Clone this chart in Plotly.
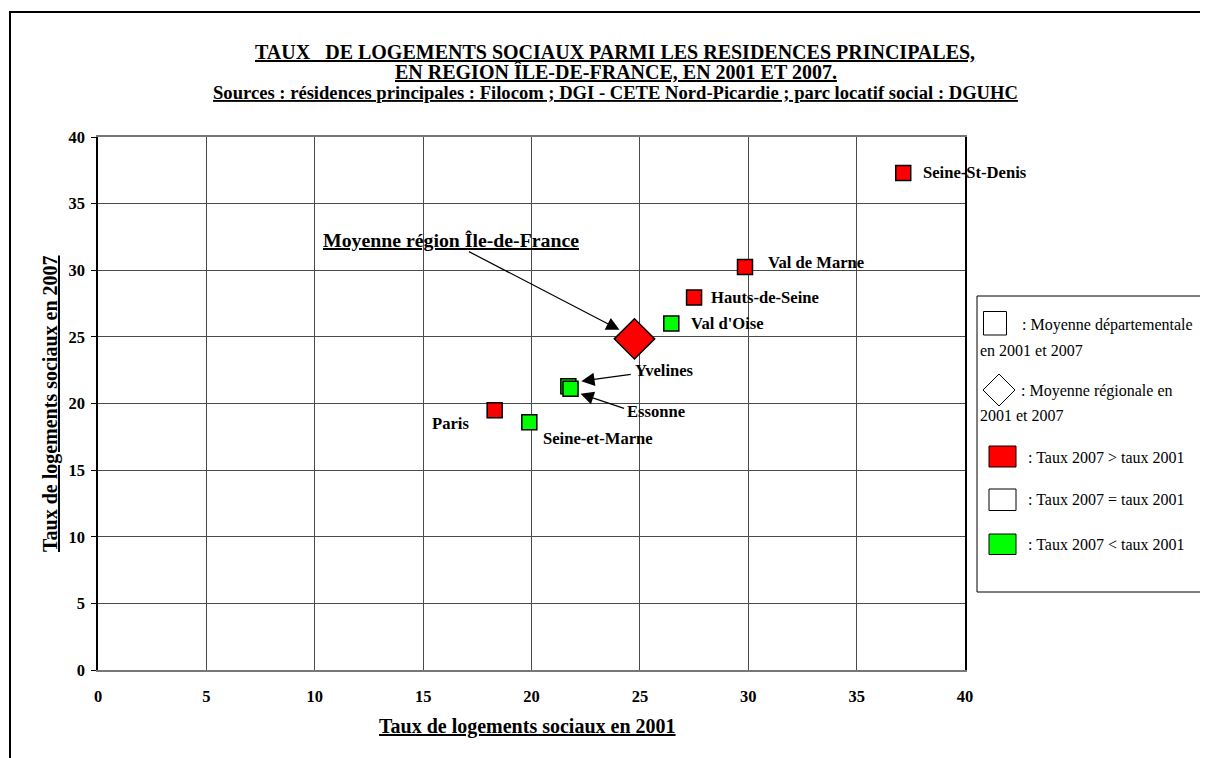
import plotly.graph_objects as go

# ---------------- data ----------------
departements = ["Paris", "Seine-et-Marne", "Yvelines", "Essonne", "Hauts-de-Seine",
                "Seine-St-Denis", "Val de Marne", "Val d'Oise"]
taux_2001 = [18.3, 19.9, 21.7, 21.8, 27.5, 37.15, 29.85, 26.45]
taux_2007 = [19.5, 18.6, 21.3, 21.1, 27.95, 37.3, 30.25, 26.0]

region_label = "Moyenne région Île-de-France"
region_2001 = 24.75
region_2007 = 24.85

axis_ticks = [0, 5, 10, 15, 20, 25, 30, 35, 40]

# ---------------- layout constants ----------------
BODY = 8                      # default page margin around the figure
W, H = 1208 - BODY, 758 - BODY
PL, PR, PT, PB = 98, 965, 137, 670   # plot area in page pixels
FONT = "Liberation Serif, Times New Roman, serif"
RED = "#FF0000"
GREEN = "#00FF00"


def px(x):
    return (x - PL) / (PR - PL)


def py(y):
    return (PB - y) / (PB - PT)


# label placement (pixel offsets from each marker centre)
label_pos = {
    "Paris": dict(dx=-24, dy=13, anchor="right"),
    "Seine-et-Marne": dict(dx=12, dy=16, anchor="left"),
    "Yvelines": dict(dx=65, dy=-16, anchor="left"),
    "Essonne": dict(dx=54, dy=23, anchor="left"),
    "Hauts-de-Seine": dict(dx=15, dy=0, anchor="left"),
    "Seine-St-Denis": dict(dx=18, dy=0, anchor="left"),
    "Val de Marne": dict(dx=21, dy=-4, anchor="left"),
    "Val d'Oise": dict(dx=18, dy=0, anchor="left"),
}
# arrows: head offset from marker centre, tail offset from head (pixels)
arrow_pos = {
    "Yvelines": dict(hx=13, hy=-5, ax=51, ay=-7),
    "Essonne": dict(hx=10, hy=5, ax=45, ay=15),
}

fig = go.Figure()

up_x = [a for a, b in zip(taux_2001, taux_2007) if b > a]
up_y = [b for a, b in zip(taux_2001, taux_2007) if b > a]
dn_x = [a for a, b in zip(taux_2001, taux_2007) if b < a]
dn_y = [b for a, b in zip(taux_2001, taux_2007) if b < a]

fig.add_trace(go.Scatter(x=dn_x, y=dn_y, mode="markers",
                         marker=dict(symbol="square", size=15, color=GREEN,
                                     line=dict(color="black", width=1.5)),
                         hoverinfo="skip", showlegend=False))
fig.add_trace(go.Scatter(x=up_x, y=up_y, mode="markers",
                         marker=dict(symbol="square", size=15, color=RED,
                                     line=dict(color="black", width=1.5)),
                         hoverinfo="skip", showlegend=False))
fig.add_trace(go.Scatter(x=[region_2001], y=[region_2007], mode="markers",
                         marker=dict(symbol="diamond", size=31, color=RED,
                                     line=dict(color="black", width=1.5)),
                         hoverinfo="skip", showlegend=False))

annotations = []
for name, x, y in zip(departements, taux_2001, taux_2007):
    p = label_pos[name]
    annotations.append(dict(x=x, y=y, xref="x", yref="y", text="<b>%s</b>" % name,
                            showarrow=False, xanchor=p["anchor"], yanchor="middle",
                            xshift=p["dx"], yshift=-p["dy"],
                            font=dict(family=FONT, size=16.6, color="black")))
    if name in arrow_pos:
        a = arrow_pos[name]
        annotations.append(dict(x=x, y=y, xref="x", yref="y", text="",
                                showarrow=True, arrowhead=2, arrowsize=2.2,
                                arrowwidth=1.2, arrowcolor="black",
                                ax=a["ax"], ay=a["ay"], standoff=0,
                                xshift=a["hx"], yshift=-a["hy"]))

# regional mean label + arrow
annotations.append(dict(x=region_2001, y=region_2007, xref="x", yref="y",
                        text="<b><u>%s</u></b>" % region_label, showarrow=False,
                        xanchor="left", yanchor="middle", xshift=-313, yshift=99,
                        font=dict(family=FONT, size=19.8, color="black")))
annotations.append(dict(x=region_2001, y=region_2007, xref="x", yref="y", text="",
                        showarrow=True, arrowhead=2, arrowsize=2.2, arrowwidth=1.2,
                        arrowcolor="black", ax=-152, ay=-79, standoff=0,
                        xshift=-15, yshift=9))

# titles
title_lines = [
    ("TAUX   DE LOGEMENTS SOCIAUX PARMI LES RESIDENCES PRINCIPALES,", 615, 52, 20),
    ("EN REGION ÎLE-DE-FRANCE, EN 2001 ET 2007.", 616, 72, 20),
    ("Sources : résidences principales : Filocom ; DGI - CETE Nord-Picardie ; parc locatif social : DGUHC", 615, 92, 18.6),
]
for t, x, y, s in title_lines:
    annotations.append(dict(x=px(x), y=py(y), xref="paper", yref="paper",
                            text="<b><u>%s</u></b>" % t.replace("   ", "&nbsp;&nbsp;&nbsp;"),
                            showarrow=False, xanchor="center", yanchor="middle",
                            font=dict(family=FONT, size=s, color="black")))

# axis titles
annotations.append(dict(x=px(527), y=py(726), xref="paper", yref="paper",
                        text="<b><u>Taux de logements sociaux en 2001</u></b>",
                        showarrow=False, xanchor="center", yanchor="middle",
                        font=dict(family=FONT, size=20, color="black")))
annotations.append(dict(x=px(50), y=py(404), xref="paper", yref="paper",
                        text="<b><u>Taux de logements sociaux en 2007</u></b>",
                        showarrow=False, xanchor="center", yanchor="middle", textangle=-90,
                        font=dict(family=FONT, size=20, color="black")))

# legend texts
legend_texts = [
    (": Moyenne départementale", 1020, 325),
    ("en 2001 et 2007", 978, 350),
    (": Moyenne régionale en", 1019, 391),
    ("2001 et 2007", 978, 415),
    (": Taux 2007 > taux 2001", 1026, 457),
    (": Taux 2007 = taux 2001", 1026, 499),
    (": Taux 2007 < taux 2001", 1026, 544),
]
for t, x, y in legend_texts:
    annotations.append(dict(x=px(x), y=py(y), xref="paper", yref="paper",
                            text=t.replace("<", "&lt;").replace(">", "&gt;"),
                            showarrow=False, xanchor="left", yanchor="middle",
                            font=dict(family=FONT, size=16, color="black")))

shapes = []
# outer frame
shapes.append(dict(type="rect", xref="paper", yref="paper",
                   x0=px(10), x1=px(1230), y0=py(12), y1=py(780),
                   line=dict(color="black", width=2), fillcolor="rgba(0,0,0,0)", layer="below"))
# legend box
shapes.append(dict(type="rect", xref="paper", yref="paper",
                   x0=px(977), x1=px(1230), y0=py(296), y1=py(592),
                   line=dict(color="black", width=1), fillcolor="white"))
# legend symbols
shapes.append(dict(type="rect", xref="paper", yref="paper",
                   x0=px(983.5), x1=px(1006.5), y0=py(311.5), y1=py(335),
                   line=dict(color="black", width=1), fillcolor="white"))
cx, cy, r = 999, 390, 16
shapes.append(dict(type="path", xref="paper", yref="paper",
                   path="M %f %f L %f %f L %f %f L %f %f Z" % (
                       px(cx - r), py(cy), px(cx), py(cy - r), px(cx + r), py(cy), px(cx), py(cy + r)),
                   line=dict(color="black", width=1), fillcolor="white"))
for y0, y1, col in [(446, 467, RED), (489, 510.5, "white"), (534, 554.5, GREEN)]:
    shapes.append(dict(type="rect", xref="paper", yref="paper",
                       x0=px(989), x1=px(1016), y0=py(y0), y1=py(y1),
                       line=dict(color="black", width=1), fillcolor=col))

fig.update_layout(
    width=W, height=H, autosize=False,
    margin=dict(l=PL - BODY, r=W - (PR - BODY), t=PT - BODY, b=H - (PB - BODY), pad=0),
    paper_bgcolor="white", plot_bgcolor="white",
    showlegend=False,
    annotations=annotations, shapes=shapes,
    xaxis=dict(range=[0, 40], tickvals=axis_ticks, ticktext=[str(v) for v in axis_ticks],
               showgrid=True, gridcolor="#4a4a4a", gridwidth=1,
               showline=True, linecolor="#777777", linewidth=1.5, mirror=True,
               zeroline=False, ticks="", ticklabelstandoff=10,
               tickfont=dict(family=FONT, size=16.5, color="black", weight="bold")),
    yaxis=dict(range=[0, 40], tickvals=axis_ticks, ticktext=[str(v) for v in axis_ticks],
               showgrid=True, gridcolor="#4a4a4a", gridwidth=1,
               showline=True, linecolor="black", linewidth=1.5, mirror=True,
               zeroline=False, ticks="outside", ticklen=5, tickcolor="black",
               ticklabelstandoff=3,
               tickfont=dict(family=FONT, size=16.5, color="black", weight="bold")),
)

fig.write_html("out.html")
